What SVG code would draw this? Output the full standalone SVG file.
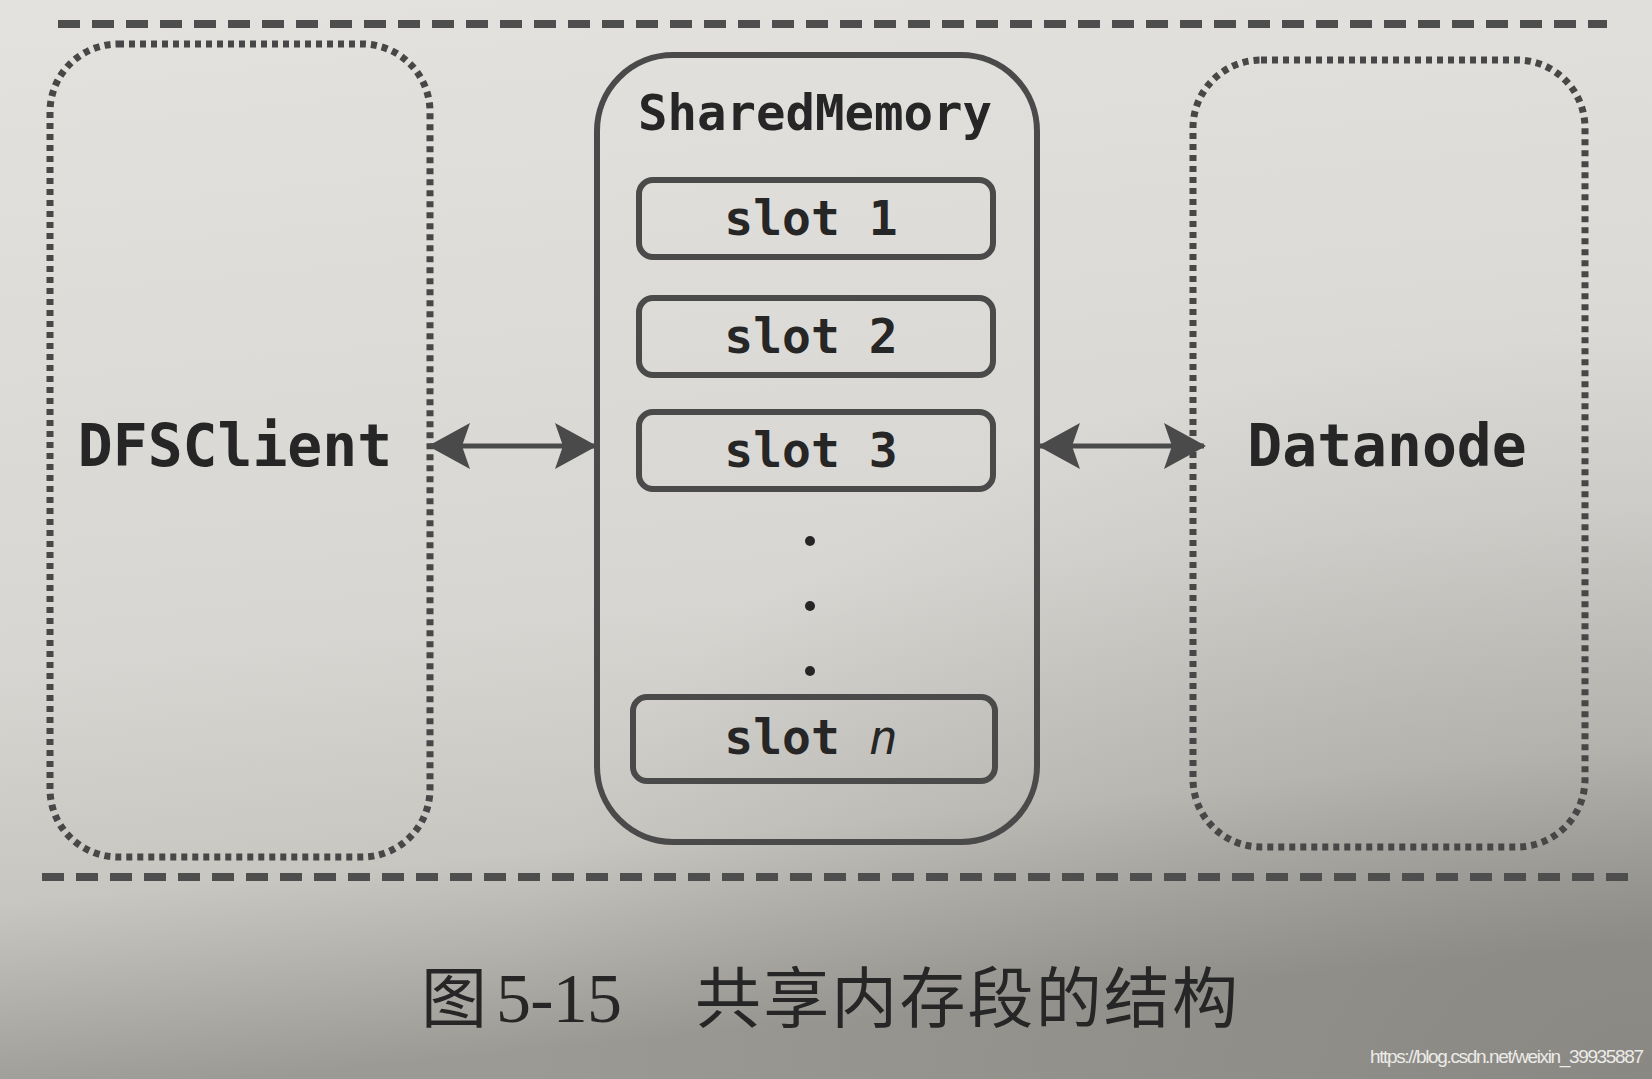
<svg xmlns="http://www.w3.org/2000/svg" width="1652" height="1079" viewBox="0 0 1652 1079">
<defs>
<linearGradient id="paper" x1="0" y1="0" x2="0.15" y2="1">
<stop offset="0" stop-color="#e3e2de"/>
<stop offset="0.6" stop-color="#d8d6d2"/>
<stop offset="0.82" stop-color="#c8c6c1"/>
<stop offset="1" stop-color="#9c9a95"/>
</linearGradient>
<radialGradient id="shade" cx="1" cy="1" r="0.7">
<stop offset="0" stop-color="#6f6d69" stop-opacity="0.4"/>
<stop offset="1" stop-color="#6f6d69" stop-opacity="0"/>
</radialGradient>
<marker id="ah" viewBox="0 0 42 46" refX="40" refY="23" markerWidth="42" markerHeight="46" markerUnits="userSpaceOnUse" orient="auto-start-reverse">
<path d="M0,0 L42,23 L0,46 L8,23 Z" fill="#4a4a4a"/>
</marker>
</defs>
<style>
.dash{stroke:#4e4e4e;stroke-width:8;stroke-dasharray:22 12;fill:none}
.dots{fill:none;stroke:#474747;stroke-width:7;stroke-dasharray:6 5}
.frame{fill:none;stroke:#4a4a4a;stroke-width:6}
.slot{fill:none;stroke:#4a4a4a;stroke-width:6}
.mono{font-family:"DejaVu Sans Mono",monospace;font-weight:bold;fill:#262626}
.conn{stroke:#4a4a4a;stroke-width:5;fill:none}
</style>
<rect width="1652" height="1079" fill="url(#paper)"/>
<rect width="1652" height="1079" fill="url(#shade)"/>
<line class="dash" x1="58" y1="24" x2="1607" y2="24"/>
<line class="dash" x1="42" y1="877" x2="1628" y2="877"/>
<g id="dfsclient">
<rect class="dots" x="50" y="44" width="380" height="813" rx="68"/>
<text class="mono" x="235" y="466" font-size="58" text-anchor="middle">DFSClient</text>
</g>
<g id="datanode">
<rect class="dots" x="1193" y="60" width="392" height="787" rx="68"/>
<text class="mono" x="1387" y="466" font-size="58" text-anchor="middle">Datanode</text>
</g>
<g id="sharedmemory">
<rect class="frame" x="597" y="55" width="440" height="787" rx="76"/>
<text class="mono" x="815" y="130" font-size="49" text-anchor="middle">SharedMemory</text>
</g>
<g id="slot1">
<rect class="slot" x="639" y="180" width="354" height="77" rx="14"/>
<text class="mono" x="811" y="235" font-size="48" text-anchor="middle">slot 1</text>
</g>
<g id="slot2">
<rect class="slot" x="639" y="298" width="354" height="77" rx="14"/>
<text class="mono" x="811" y="353" font-size="48" text-anchor="middle">slot 2</text>
</g>
<g id="slot3">
<rect class="slot" x="639" y="412" width="354" height="77" rx="14"/>
<text class="mono" x="811" y="467" font-size="48" text-anchor="middle">slot 3</text>
</g>
<g id="ellipsis" fill="#262626">
<circle cx="810" cy="541" r="5"/>
<circle cx="810" cy="606" r="5"/>
<circle cx="810" cy="671" r="5"/>
</g>
<g id="slotn">
<rect class="slot" x="633" y="697" width="362" height="84" rx="14"/>
<text class="mono" x="811" y="754" font-size="48" text-anchor="middle">slot <tspan font-style="italic" font-weight="normal">n</tspan></text>
</g>
<g id="connectors">
<line class="conn" x1="430" y1="446" x2="595" y2="446" marker-start="url(#ah)" marker-end="url(#ah)"/>
<line class="conn" x1="1040" y1="446" x2="1204" y2="446" marker-start="url(#ah)" marker-end="url(#ah)"/>
</g>
<text x="421" y="1022" font-size="66" fill="#262626" font-family="'Noto Sans CJK SC',sans-serif">图</text>
<text x="496" y="1022" font-size="70" fill="#262626" font-family="'Liberation Serif',serif" textLength="126">5-15</text>
<text x="695" y="1022" font-size="66" fill="#262626" font-family="'Noto Sans CJK SC',sans-serif" textLength="543">共享内存段的结构</text>
<text x="1370" y="1063" font-size="19" fill="#ecebe8" font-family="'Liberation Sans',sans-serif" textLength="274">https://blog.csdn.net/weixin_39935887</text>
</svg>
